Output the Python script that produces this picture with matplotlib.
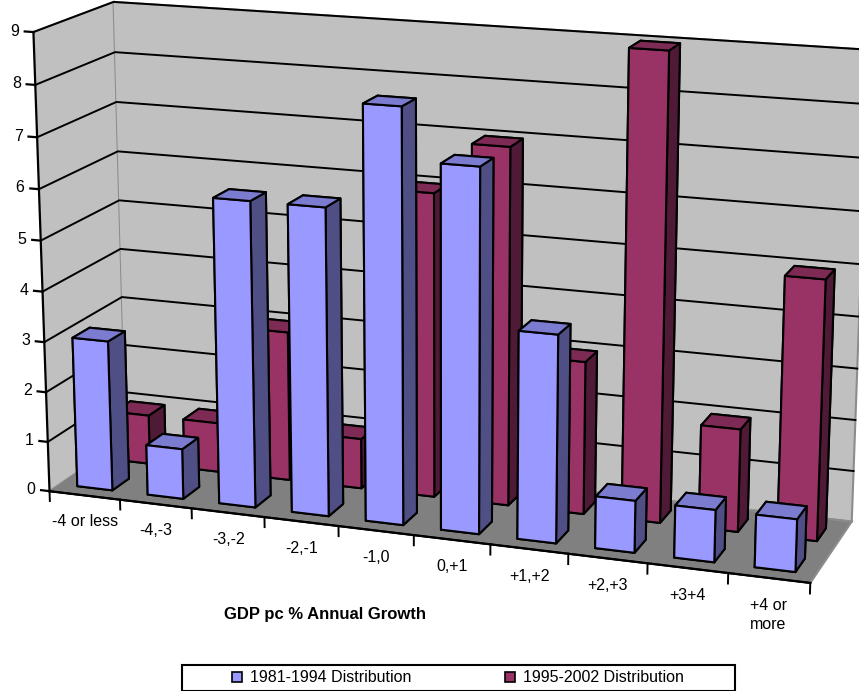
import matplotlib
matplotlib.use("Agg")
import matplotlib.pyplot as plt
from matplotlib.patches import Patch, Rectangle

# GDP per capita growth bands and number of countries falling in each band
categories = ["-4 or less", "-4,-3", "-3,-2", "-2,-1", "-1,0",
              "0,+1", "+1,+2", "+2,+3", "+3+4", "+4 or\nmore"]
dist_1981_1994 = [3, 1, 6, 6, 8, 7, 4, 1, 1, 1]
dist_1995_2002 = [1, 1, 3, 1, 6, 7, 3, 9, 2, 5]
series_names = ["1981-1994 Distribution", "1995-2002 Distribution"]
value_ticks = list(range(10))

# shades for the visible faces of each series: front, top, right side
blue_faces = ("#9999FF", "#7B7BD0", "#4F4F86")
plum_faces = ("#993366", "#7D2A55", "#4F1A36")

plt.rcParams["font.family"] = ["Liberation Sans", "DejaVu Sans"]

fig = plt.figure(figsize=(8.59, 6.91), dpi=100)
fig.patch.set_facecolor("white")

side = 950
cx, cy = 432 / 859, 1 - 291 / 691
w, h = side / 859, side / 691
ax = fig.add_axes([cx - w / 2, cy - h / 2, w, h], projection="3d")
ax.patch.set_alpha(0)

n = len(categories)
depth = 2.3
bar_w = 0.5
row_front = [0.3, 1.45]
zmax = 9

ax.set_xlim(0, n)
ax.set_ylim(0, depth)
ax.set_zlim(0, zmax)
ax.set_box_aspect((10, depth, 6.0), zoom=0.975)
ax.view_init(elev=15, azim=-70.5)
ax.set_proj_type("persp", focal_length=0.6)
ax.computed_zorder = False

# walls and floor
for axis, col in ((ax.xaxis, "#C0C0C0"), (ax.yaxis, "#C0C0C0"), (ax.zaxis, "#808080")):
    axis.set_pane_color(col)
    axis.pane.set_edgecolor("#8C8C8C")
    axis.pane.set_linewidth(1.5)

ax.grid(False)
ax.set_xticks([])
ax.set_yticks([])
ax.set_zticks([])
ax.xaxis.line.set_color("black")
ax.xaxis.line.set_linewidth(1.3)
ax.zaxis.line.set_color((0, 0, 0, 0))
ax.yaxis.line.set_color((0, 0, 0, 0))

# horizontal gridlines across the side wall and the back wall
for v in value_ticks[1:]:
    ax.plot([0, 0, n], [0, depth, depth], [v, v, v],
            color="black", lw=1.4, zorder=0.5)


def faces(shades):
    front, top, right = shades
    # bar3d face order: bottom, top, front, back, left, right
    return [front, top, front, front, front, right]


z = 1
for row, (values, shades) in enumerate(
        ((dist_1995_2002, plum_faces), (dist_1981_1994, blue_faces))):
    y0 = row_front[1 - row]
    for i, v in enumerate(values):
        ax.bar3d(i + (1 - bar_w) / 2, y0, 0, bar_w, bar_w, v,
                 color=faces(shades), shade=False,
                 edgecolor="black", linewidth=1.5, zorder=z)
        z += 1

# value axis on the front-left corner
ax.plot([0, 0], [0, 0], [0, zmax], color="black", lw=1.6, zorder=z)
for v in value_ticks:
    ax.plot([0, -0.12], [0, 0], [v, v], color="black", lw=1.6, zorder=z)
    ax.text(-0.2, 0, v, str(v), ha="right", va="center", fontsize=11.5,
            zorder=z)

# front edge of the floor, category separators and labels
ax.plot([0, n], [0, 0], [0, 0], color="black", lw=1.6, zorder=z)
for b in range(n + 1):
    ax.plot([b, b], [0, 0], [0, -0.2], color="black", lw=1.4, zorder=z)
for i, lab in enumerate(categories):
    ax.text(i + 0.5, 0, -0.38, lab, ha="center", va="top", fontsize=11.5,
            linespacing=1.35, zorder=z)

fig.text(325 / 859, 1 - 615 / 691, "GDP pc % Annual Growth",
         ha="center", va="center", fontsize=12, fontweight="bold")

handles = [Patch(facecolor=blue_faces[0], edgecolor="black", lw=1.2),
           Patch(facecolor=plum_faces[0], edgecolor="black", lw=1.2)]
fig.legend(handles, series_names, ncol=2, frameon=False,
           loc="center", bbox_to_anchor=(458 / 859, 1 - 678 / 691),
           fontsize=11.5, handlelength=0.6, handleheight=0.6,
           handletextpad=0.5, columnspacing=5.9)
fig.patches.append(Rectangle((182 / 859, 0), (735 - 182) / 859, 26 / 691,
                             transform=fig.transFigure, fill=False,
                             edgecolor="black", lw=1.5))

fig.savefig("out.png", dpi=100, facecolor="white")
